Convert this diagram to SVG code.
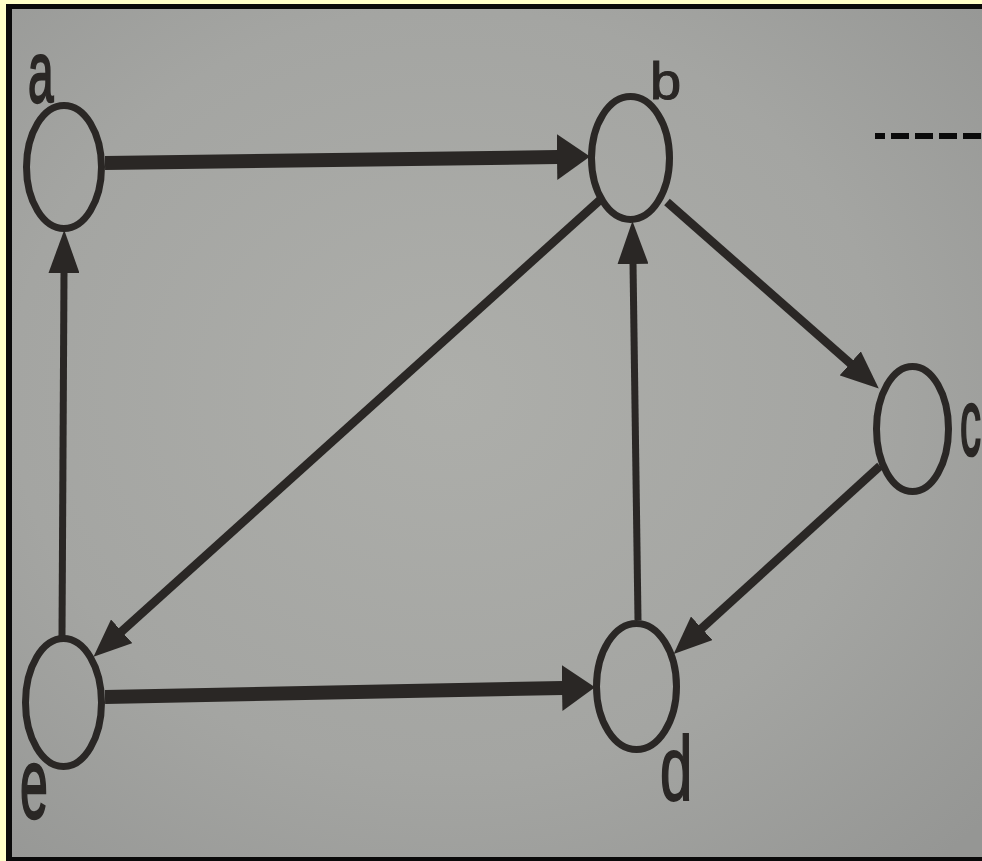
<svg xmlns="http://www.w3.org/2000/svg" width="982" height="861" viewBox="0 0 982 861">
  <defs>
    <radialGradient id="paper" cx="0.45" cy="0.45" r="0.75">
      <stop offset="0" stop-color="#adaeaa"/>
      <stop offset="0.6" stop-color="#a4a5a2"/>
      <stop offset="1" stop-color="#959694"/>
    </radialGradient>
    <marker id="hL" markerUnits="userSpaceOnUse" orient="auto" markerWidth="33" markerHeight="46" viewBox="0 0 33 46" refX="1" refY="23">
      <path d="M0,0 L33,23 L0,46 Z" fill="#2a2725"/>
    </marker>
    <marker id="hV" markerUnits="userSpaceOnUse" orient="auto" markerWidth="43" markerHeight="31" viewBox="0 0 43 31" refX="1" refY="15.5">
      <path d="M0,0 L43,15.5 L0,31 Z" fill="#2a2725"/>
    </marker>
    <marker id="hD" markerUnits="userSpaceOnUse" orient="auto" markerWidth="38" markerHeight="32" viewBox="0 0 38 32" refX="1" refY="16">
      <path d="M0,0 L38,16 L0,32 Z" fill="#2a2725"/>
    </marker>
  </defs>
  <style>
    .node { fill: none; stroke: #2a2725; stroke-width: 7; }
    .lbl { font-family: "Liberation Sans", Arial, sans-serif; fill: #2a2725; stroke: #2a2725; stroke-width: 1.2; }
    .edge { stroke: #2a2725; fill: none; stroke-linecap: butt; }
    .thick { stroke-width: 14; marker-end: url(#hL); }
    .thin { stroke-width: 7; marker-end: url(#hV); }
    .diag { stroke-width: 8.5; marker-end: url(#hD); }
  </style>

  <!-- frame -->
  <rect x="0" y="0" width="982" height="861" fill="#ffffc8"/>
  <rect x="6" y="4" width="976" height="857" fill="#0a0a0a"/>
  <rect x="12" y="9" width="970" height="848" fill="url(#paper)"/>

  <!-- dashed line at top right -->
  <line x1="875" y1="136" x2="982" y2="136" stroke="#0a0a0a" stroke-width="6" stroke-dasharray="18 6" stroke-dashoffset="8"/>

  <g id="connectors">
    <line id="edge-a-b" class="edge thick" x1="105" y1="163" x2="558" y2="157"/>
    <line id="edge-e-d" class="edge thick" x1="105" y1="697" x2="563" y2="688"/>
    <line id="edge-e-a" class="edge thin" x1="62" y1="636" x2="64" y2="272"/>
    <line id="edge-d-b" class="edge thin" x1="638" y1="620" x2="633" y2="263"/>
    <line id="edge-b-e" class="edge diag" x1="600" y1="200" x2="121" y2="632"/>
    <line id="edge-b-c" class="edge diag" x1="667" y1="202" x2="851" y2="364"/>
    <line id="edge-c-d" class="edge diag" x1="880" y1="466" x2="701" y2="629"/>
  </g>

  <g id="node-a">
    <ellipse class="node" cx="64" cy="167" rx="37.5" ry="61.5"/>
    <text class="lbl" font-size="46" transform="translate(28,102) scale(1,1.9)">a</text>
  </g>
  <g id="node-b">
    <ellipse class="node" cx="630.5" cy="158" rx="39" ry="61.5"/>
    <text class="lbl" font-size="56" transform="translate(650,99) scale(1,0.92)">b</text>
  </g>
  <g id="node-c">
    <ellipse class="node" cx="912.5" cy="429" rx="36" ry="62.5"/>
    <text class="lbl" font-size="42" transform="translate(960,455) scale(1,2.25)">c</text>
  </g>
  <g id="node-d">
    <ellipse class="node" cx="636.5" cy="686.5" rx="40" ry="63"/>
    <text class="lbl" font-size="58" transform="translate(660,800) scale(1,1.55)">d</text>
  </g>
  <g id="node-e">
    <ellipse class="node" cx="63.5" cy="702.5" rx="38" ry="64"/>
    <text class="lbl" font-size="50" transform="translate(20,818) scale(1,2)">e</text>
  </g>
</svg>
